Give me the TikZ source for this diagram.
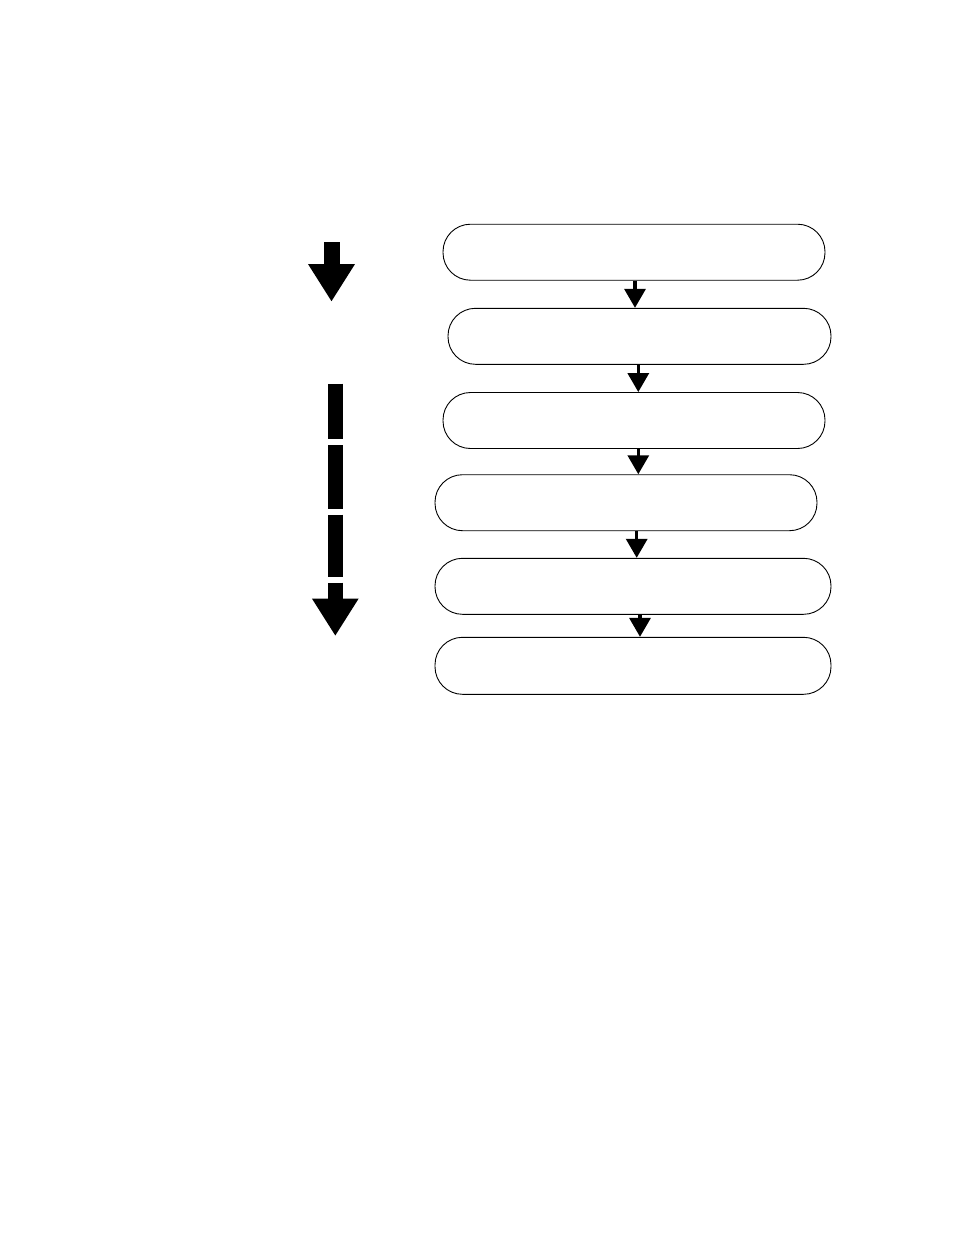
\documentclass[tikz,border=0pt]{standalone}
\usetikzlibrary{arrows.meta}
\begin{document}
\begin{tikzpicture}[
    x=1pt, y=-1pt,
    stage/.style={rectangle, draw, line width=0.9pt, rounded corners=27.5pt, minimum height=56pt, inner sep=0pt},
    flow/.style={line width=3.3pt, -{Triangle[width=21pt, length=19pt]}},
    bigarrow/.style={line width=15pt, -{Triangle[width=44pt, length=37.5pt]}}
]
\useasboundingbox (0,0) rectangle (954,1235);

% Stages (empty stadium boxes)
\node[stage, minimum width=382pt] (s1) at (634,252.2) {};
\node[stage, minimum width=383pt] (s2) at (639.5,336.3) {};
\node[stage, minimum width=382pt] (s3) at (634,420.5) {};
\node[stage, minimum width=382pt] (s4) at (626,502.7) {};
\node[stage, minimum width=396pt] (s5) at (633,586.3) {};
\node[stage, minimum width=396pt, minimum height=57pt] (s6) at (633,665.8) {};

% Connectors
\draw[flow] ([xshift=1pt]s1.south) -- ([xshift=1pt]s1.south |- s2.north);
\draw[flow] ([xshift=4.3pt]s2.south -| s3.north) -- ([xshift=4.3pt]s3.north);
\draw[flow] ([xshift=4.3pt]s3.south) -- ([xshift=4.3pt]s3.south |- s4.north);
\draw[flow] ([xshift=3.7pt]s4.south -| s5.north) -- ([xshift=3.7pt]s5.north);
\draw[flow] ([xshift=7pt]s5.south) -- ([xshift=7pt]s6.north);

% Left arrows
\coordinate (t0) at (331.5,242.3);
\coordinate (t1) at (331.5,301.7);
\draw[bigarrow, line width=16pt] (t0) -- (t1);
\coordinate (b0) at (335.3,383.7);
\coordinate (b1) at (335.3,636);
\draw[bigarrow, line width=14.7pt, dash pattern=on 55.3pt off 6pt on 63.7pt off 6pt on 62pt off 6pt on 100pt] (b0) -- (b1);

\end{tikzpicture}
\end{document}
